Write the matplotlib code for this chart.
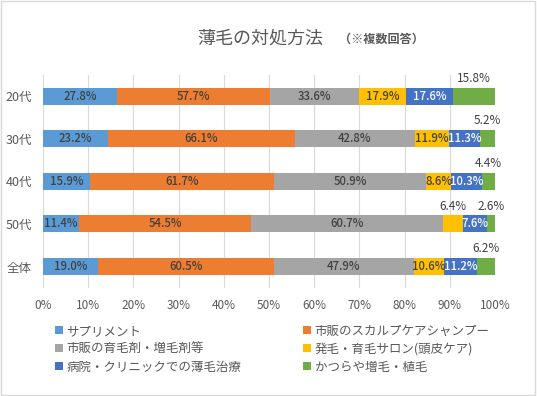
import matplotlib
matplotlib.use("Agg")
import matplotlib.pyplot as plt
from matplotlib.patches import Patch, Rectangle
import numpy as np

plt.rcParams['font.family'] = ['Noto Sans CJK JP', 'DejaVu Sans']

categories = ["20代", "30代", "40代", "50代", "全体"]
series_names = ["サプリメント", "市販のスカルプケアシャンプー", "市販の育毛剤・増毛剤等",
                "発毛・育毛サロン(頭皮ケア)", "病院・クリニックでの薄毛治療", "かつらや増毛・植毛"]
supplement = [27.8, 23.2, 15.9, 11.4, 19.0]
shampoo = [57.7, 66.1, 61.7, 54.5, 60.5]
tonic = [33.6, 42.8, 50.9, 60.7, 47.9]
salon = [17.9, 11.9, 8.6, 6.4, 10.6]
clinic = [17.6, 11.3, 10.3, 7.6, 11.2]
wig = [15.8, 5.2, 4.4, 2.6, 6.2]
xticklabels = ["0%", "10%", "20%", "30%", "40%", "50%", "60%", "70%", "80%", "90%", "100%"]

colors = ["#5B9BD5", "#ED7D31", "#A5A5A5", "#FFC000", "#4472C4", "#70AD47"]
label_colors = ["#404040", "#404040", "#404040", "#404040", "white", "#404040"]

data = np.array([supplement, shampoo, tonic, salon, clinic, wig])
totals = data.sum(axis=0)
frac = data / totals * 100

fig = plt.figure(figsize=(5.37, 3.96), dpi=100)
ax = fig.add_axes([0.080, 0.273, 0.842, 0.538])

y = np.arange(len(categories))
left = np.zeros(len(categories))
for i in range(len(series_names)):
    ax.barh(y, frac[i], left=left, height=0.4, color=colors[i], zorder=3)
    for j in range(len(categories)):
        cx = left[j] + frac[i][j] / 2
        txt = f"{data[i][j]:.1f}%"
        if i == 5 or frac[i][j] < 5:
            ax.text(cx, y[j] - 0.42, txt, ha='center', va='center',
                    fontsize=8.5, color="#404040", zorder=4)
        else:
            ax.text(cx, y[j], txt, ha='center', va='center',
                    fontsize=8.2, color=label_colors[i], zorder=4,
                    fontweight='medium')
    left += frac[i]

ax.set_xlim(0, 100)
ax.set_ylim(len(categories) - 0.5, -0.5)
ax.set_xticks(np.arange(0, 101, 10))
ax.set_xticklabels(xticklabels, fontsize=8.5, color="#595959")
ax.set_yticks(y)
ax.set_yticklabels(categories, fontsize=9, color="#595959")
ax.tick_params(length=0, pad=8)
ax.xaxis.grid(True, color="#D9D9D9", linewidth=0.8, zorder=0)
ax.set_axisbelow(True)
for s in ax.spines.values():
    s.set_visible(False)

fig.text(0.485, 0.903, "薄毛の対処方法", fontsize=13, color="#595959", ha='center', va='center')
fig.text(0.71, 0.900, "（※複数回答）", fontsize=8.7, color="#595959", ha='center',
         va='center', fontweight='bold')

handles = [Patch(facecolor=c, edgecolor='none') for c in colors]
order = [0, 2, 4, 1, 3, 5]
fig.legend([handles[k] for k in order], [series_names[k] for k in order], ncol=2,
           loc='center left', bbox_to_anchor=(0.082, 0.118), frameon=False,
           fontsize=9, labelcolor="#595959", handlelength=0.6, handleheight=0.6,
           handletextpad=0.3, columnspacing=4.95, labelspacing=0.4)

fig.add_artist(Rectangle((0.002, 0.003), 0.995, 0.994, transform=fig.transFigure,
                         fill=False, edgecolor="#D9D9D9", linewidth=1))

fig.savefig("out.png", dpi=100)
